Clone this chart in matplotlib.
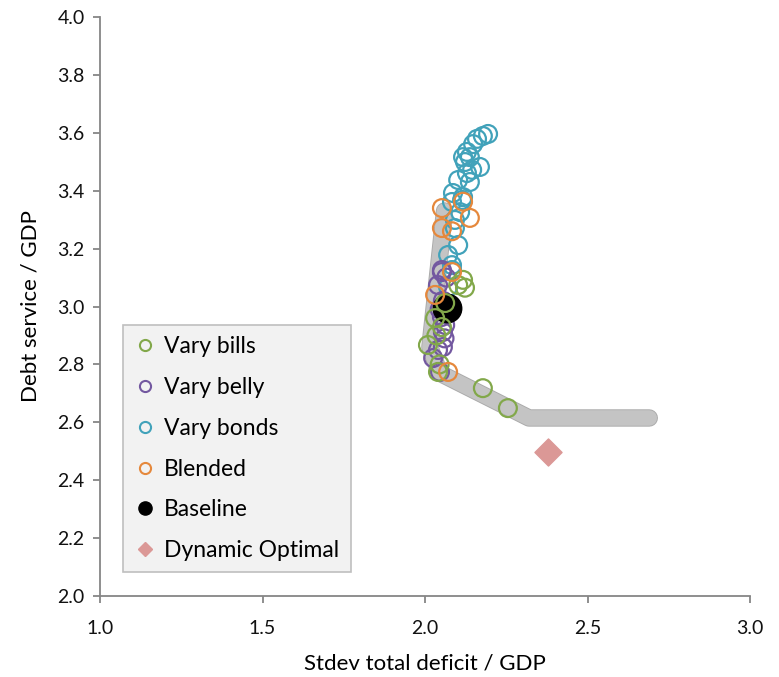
import matplotlib
matplotlib.use("Agg")
import matplotlib.pyplot as plt
from matplotlib.lines import Line2D

plt.rcParams['font.family'] = ['Lato', 'DejaVu Sans']

# efficient frontier (drawn as a thick grey band)
frontier_x = [2.06, 2.015, 2.045, 2.32, 2.69]
frontier_y = [3.33, 2.86, 2.77, 2.615, 2.615]

bills_x = [2.117, 2.102, 2.123, 2.062, 2.031, 2.052, 2.009, 2.040, 2.178, 2.255, 2.045, 2.035]
bills_y = [3.092, 3.074, 3.065, 3.012, 2.960, 2.929, 2.867, 2.774, 2.718, 2.649, 2.80, 2.90]

belly_x = [2.052, 2.052, 2.040, 2.055, 2.052, 2.062, 2.055, 2.055, 2.040, 2.025, 2.046, 2.065, 2.060, 2.045]
belly_y = [3.126, 3.119, 3.074, 3.020, 2.964, 2.936, 2.912, 2.860, 2.850, 2.822, 2.774, 3.100, 2.890, 2.990]

bonds_x = [2.194, 2.178, 2.160, 2.148, 2.129, 2.117, 2.138, 2.123, 2.169, 2.145, 2.129,
           2.102, 2.138, 2.086, 2.117, 2.083, 2.114, 2.108, 2.092, 2.092, 2.102, 2.071,
           2.083, 2.083, 2.071]
bonds_y = [3.596, 3.589, 3.579, 3.561, 3.534, 3.516, 3.516, 3.499, 3.482, 3.472, 3.461,
           3.437, 3.430, 3.392, 3.378, 3.361, 3.368, 3.326, 3.299, 3.271, 3.212, 3.178,
           3.143, 3.126, 3.067]

blend_x = [2.052, 2.117, 2.138, 2.052, 2.083, 2.083, 2.031, 2.071]
blend_y = [3.340, 3.362, 3.306, 3.271, 3.260, 3.119, 3.040, 2.774]

base_x, base_y = [2.068], [2.995]
opt_x, opt_y = [2.378], [2.497]

c_bills = '#82a84a'
c_belly = '#7358a0'
c_bonds = '#41a2ba'
c_blend = '#e5883c'
c_opt = '#db9896'

fig = plt.figure(figsize=(7.79, 6.77), dpi=100)
ax = fig.add_axes([0.1284, 0.1196, 0.8344, 0.8553])

ax.plot(frontier_x, frontier_y, color='#a9a9a9', lw=12.5, solid_capstyle='round',
        solid_joinstyle='round', zorder=1)
ax.plot(frontier_x, frontier_y, color='#c4c4c4', lw=11.2, solid_capstyle='round',
        solid_joinstyle='round', zorder=1)

circ = dict(s=165, facecolors='none', linewidths=1.6, zorder=3)
ax.scatter(bonds_x, bonds_y, edgecolors=c_bonds, **circ)
ax.scatter(belly_x, belly_y, edgecolors=c_belly, **circ)
ax.scatter(base_x, base_y, s=420, color='black', zorder=3)
ax.scatter(bills_x, bills_y, edgecolors=c_bills, **circ)
ax.scatter(blend_x, blend_y, edgecolors=c_blend, **circ)
ax.scatter(opt_x, opt_y, s=190, marker='D', color=c_opt, zorder=3)

ax.set_xlim(1.0, 3.0)
ax.set_ylim(2.0, 4.0)
ax.set_xticks([1.0, 1.5, 2.0, 2.5, 3.0])
ax.set_yticks([2.0, 2.2, 2.4, 2.6, 2.8, 3.0, 3.2, 3.4, 3.6, 3.8, 4.0])
ax.xaxis.set_major_formatter(matplotlib.ticker.FormatStrFormatter('%.1f'))
ax.yaxis.set_major_formatter(matplotlib.ticker.FormatStrFormatter('%.1f'))

for side in ['top', 'right']:
    ax.spines[side].set_visible(False)
for side in ['left', 'bottom']:
    ax.spines[side].set_color('#868686')
    ax.spines[side].set_linewidth(1.3)
ax.tick_params(axis='both', colors='#868686', length=5, width=1.3, labelsize=14,
               labelcolor='#111111')
ax.tick_params(axis='x', pad=12)
ax.tick_params(axis='y', pad=6)

ax.set_xlabel('Stdev total deficit / GDP', fontsize=16, labelpad=12)
ax.set_ylabel('Debt service / GDP', fontsize=16, labelpad=12)

handles = [
    Line2D([], [], ls='none', marker='o', ms=8, mfc='none', mec=c_bills, mew=1.5),
    Line2D([], [], ls='none', marker='o', ms=8, mfc='none', mec=c_belly, mew=1.5),
    Line2D([], [], ls='none', marker='o', ms=8, mfc='none', mec=c_bonds, mew=1.5),
    Line2D([], [], ls='none', marker='o', ms=8, mfc='none', mec=c_blend, mew=1.5),
    Line2D([], [], ls='none', marker='o', ms=9.5, color='black'),
    Line2D([], [], ls='none', marker='D', ms=7, color=c_opt),
]
labels = ['Vary bills', 'Vary belly', 'Vary bonds', 'Blended', 'Baseline', 'Dynamic Optimal']
leg = ax.legend(handles, labels, loc='upper left', bbox_to_anchor=(0.035, 0.468),
                borderaxespad=0, fontsize=16.5, frameon=True, fancybox=False,
                facecolor='#f2f2f2', edgecolor='#bfbfbf', framealpha=1,
                labelspacing=0.86, handlelength=0.95, handletextpad=0.35,
                borderpad=0.5)
leg.get_frame().set_linewidth(1.2)

fig.savefig('out.png', dpi=100)
